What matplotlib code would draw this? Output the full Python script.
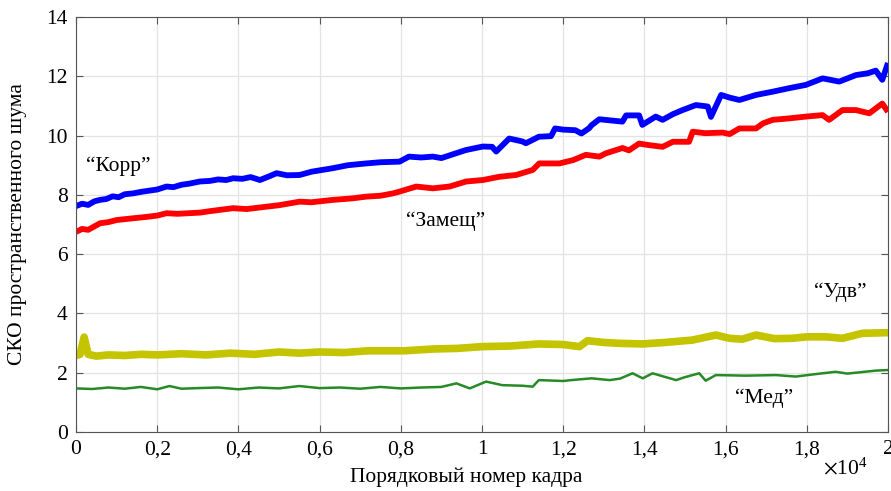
import matplotlib
matplotlib.use("Agg")
import matplotlib.pyplot as plt
import numpy as np

plt.rcParams['font.family'] = ['Liberation Serif', 'DejaVu Serif']
plt.rcParams['mathtext.fontset'] = 'stix'

# ---- data (frame index, noise RMS) ----
korr_x = [0, 150, 300, 450, 590, 750, 900, 1050, 1200, 1410, 1600, 1800, 2000, 2230, 2400,
          2600, 2800, 3050, 3300, 3500, 3700, 3870, 4100, 4300, 4530, 4750, 4940, 5200, 5510,
          5800, 6330, 6700, 7150, 7500, 7970, 8200, 8500, 8790, 9000, 9600, 10020, 10250,
          10350, 10670, 11000, 11080, 11400, 11700, 11800, 12000, 12300, 12450, 12640, 12700,
          12890, 13100, 13460, 13550, 13870, 13950, 14280, 14450, 14700, 14940, 15270, 15560,
          15640, 15890, 16100, 16340, 16750, 17160, 17570, 17980, 18390, 18800, 19210, 19500,
          19700, 19860, 20000]
korr_y = [7.62, 7.70, 7.66, 7.78, 7.83, 7.86, 7.95, 7.92, 8.02, 8.05, 8.10, 8.14, 8.18, 8.28, 8.26,
          8.34, 8.38, 8.45, 8.47, 8.52, 8.50, 8.56, 8.54, 8.60, 8.50, 8.62, 8.73, 8.66, 8.67,
          8.78, 8.90, 9.00, 9.06, 9.10, 9.12, 9.29, 9.26, 9.29, 9.24, 9.51, 9.63, 9.62,
          9.46, 9.90, 9.80, 9.74, 9.96, 9.98, 10.24, 10.20, 10.18, 10.07, 10.25, 10.35,
          10.55, 10.52, 10.47, 10.68, 10.68, 10.36, 10.64, 10.53, 10.72, 10.86, 11.03, 10.98,
          10.63, 11.37, 11.28, 11.20, 11.37, 11.48, 11.60, 11.71, 11.93, 11.82, 12.04, 12.10,
          12.19, 11.88, 12.45]

zam_x = [0, 150, 300, 590, 800, 1000, 1410, 1700, 2000, 2230, 2500, 3050, 3300, 3870, 4200,
         4690, 5000, 5510, 5800, 6330, 6800, 7150, 7500, 7810, 7970, 8380, 8790, 9200, 9610,
         10020, 10430, 10840, 11250, 11410, 11910, 12240, 12560, 12890, 13050, 13460, 13620,
         13870, 14100, 14450, 14700, 15100, 15190, 15500, 15930, 16100, 16340, 16750, 16920,
         17160, 17570, 17980, 18390, 18550, 18880, 19210, 19540, 19860, 20000]
zam_y = [6.75, 6.85, 6.82, 7.04, 7.08, 7.15, 7.21, 7.25, 7.30, 7.38, 7.36, 7.40, 7.45, 7.55, 7.52,
         7.60, 7.65, 7.77, 7.75, 7.83, 7.88, 7.94, 7.97, 8.05, 8.11, 8.28, 8.22, 8.28, 8.45,
         8.50, 8.61, 8.67, 8.84, 9.06, 9.06, 9.17, 9.35, 9.29, 9.40, 9.58, 9.50,
         9.73, 9.68, 9.62, 9.79, 9.79, 10.13, 10.08, 10.10, 10.05, 10.24, 10.24, 10.41,
         10.53, 10.58, 10.64, 10.69, 10.53, 10.86, 10.86, 10.75, 11.08, 10.80]

udv_x = [0, 100, 200, 300, 500, 800, 1200, 1600, 2000, 2600, 3200, 3800, 4400, 5000, 5500,
         6000, 6600, 7200, 8100, 8800, 9400, 10000, 10700, 11400, 12000, 12400, 12600, 13000,
         13400, 13950, 14500, 15180, 15760, 16100, 16410, 16750, 17200, 17640, 18000, 18470,
         18880, 19370, 20000]
udv_y = [2.58, 2.62, 3.20, 2.62, 2.56, 2.60, 2.58, 2.62, 2.60, 2.64, 2.60, 2.66, 2.62, 2.70, 2.66,
         2.70, 2.68, 2.74, 2.74, 2.80, 2.82, 2.88, 2.90, 2.97, 2.95, 2.88, 3.08, 3.02,
         2.99, 2.97, 3.02, 3.10, 3.27, 3.16, 3.13, 3.27, 3.15, 3.16, 3.21, 3.21,
         3.16, 3.33, 3.35]

med_x = [0, 400, 800, 1200, 1600, 2000, 2300, 2600, 3000, 3500, 4000, 4500, 5000, 5500, 6000,
         6500, 7000, 7500, 8000, 8500, 9000, 9370, 9700, 10100, 10500, 11000, 11250, 11400,
         12000, 12200, 12700, 13140, 13400, 13710, 13960, 14200, 14780, 15000, 15350, 15510,
         15760, 16500, 17240, 17730, 18200, 18710, 19000, 19700, 20000]
med_y = [1.47, 1.45, 1.50, 1.46, 1.52, 1.44, 1.55, 1.46, 1.48, 1.50, 1.44, 1.50, 1.47, 1.55, 1.48,
         1.50, 1.46, 1.52, 1.47, 1.50, 1.52, 1.64, 1.47, 1.70, 1.58, 1.56, 1.53, 1.75,
         1.72, 1.75, 1.81, 1.75, 1.80, 1.98, 1.81, 1.98, 1.75, 1.85, 1.98, 1.73,
         1.92, 1.90, 1.92, 1.87, 1.95, 2.03, 1.97, 2.07, 2.09]

x_ticks = [0, 2000, 4000, 6000, 8000, 10000, 12000, 14000, 16000, 18000, 20000]
x_tick_labels = ['0', '0,2', '0,4', '0,6', '0,8', '1', '1,2', '1,4', '1,6', '1,8', '2']
y_ticks = [0, 2, 4, 6, 8, 10, 12, 14]

fig = plt.figure(figsize=(8.91, 4.91), dpi=100)
ax = fig.add_axes([0.0853, 0.1202, 0.9113, 0.8452])

ax.plot(udv_x, udv_y, color='#C4C400', lw=5.5, solid_joinstyle='round', solid_capstyle='butt')
ax.plot(med_x, med_y, color='#268A26', lw=1.8, solid_joinstyle='round')
ax.plot(zam_x, zam_y, color='#FF0000', lw=4.2, solid_joinstyle='round', solid_capstyle='butt')
ax.plot(korr_x, korr_y, color='#0000FF', lw=4.2, solid_joinstyle='round', solid_capstyle='butt')

ax.set_xlim(0, 20000)
ax.set_ylim(0, 14)
ax.set_xticks(x_ticks)
ax.set_xticklabels(x_tick_labels)
ax.set_yticks(y_ticks)
ax.grid(True, color='#E3E3E3', lw=0.9)
ax.set_axisbelow(True)
for s in ax.spines.values():
    s.set_color('#555555')
    s.set_linewidth(0.8)
ax.tick_params(direction='in', length=5, width=0.8, color='#555555', labelsize=15.5,
               top=True, right=True, pad=6)

ax.set_xlabel('Порядковый номер кадра', fontsize=15.5)
ax.xaxis.set_label_coords(0.480, -0.086)
ax.set_ylabel('СКО пространственного шума', fontsize=15.5)
ax.yaxis.set_label_coords(-0.060, 0.5)

ax.text(19500, -1.22, r'$\times\mathregular{10^4}$', fontsize=15.5,
        ha='right', va='center')

ax.text(250, 8.97, '“Корр”', fontsize=15.5, ha='left', va='center')
ax.text(9100, 7.12, '“Замещ”', fontsize=15.5, ha='center', va='center')
ax.text(18830, 4.72, '“Удв”', fontsize=15.5, ha='center', va='center')
ax.text(16950, 1.15, '“Мед”', fontsize=15.5, ha='center', va='center')

fig.savefig('out.png', dpi=100)
